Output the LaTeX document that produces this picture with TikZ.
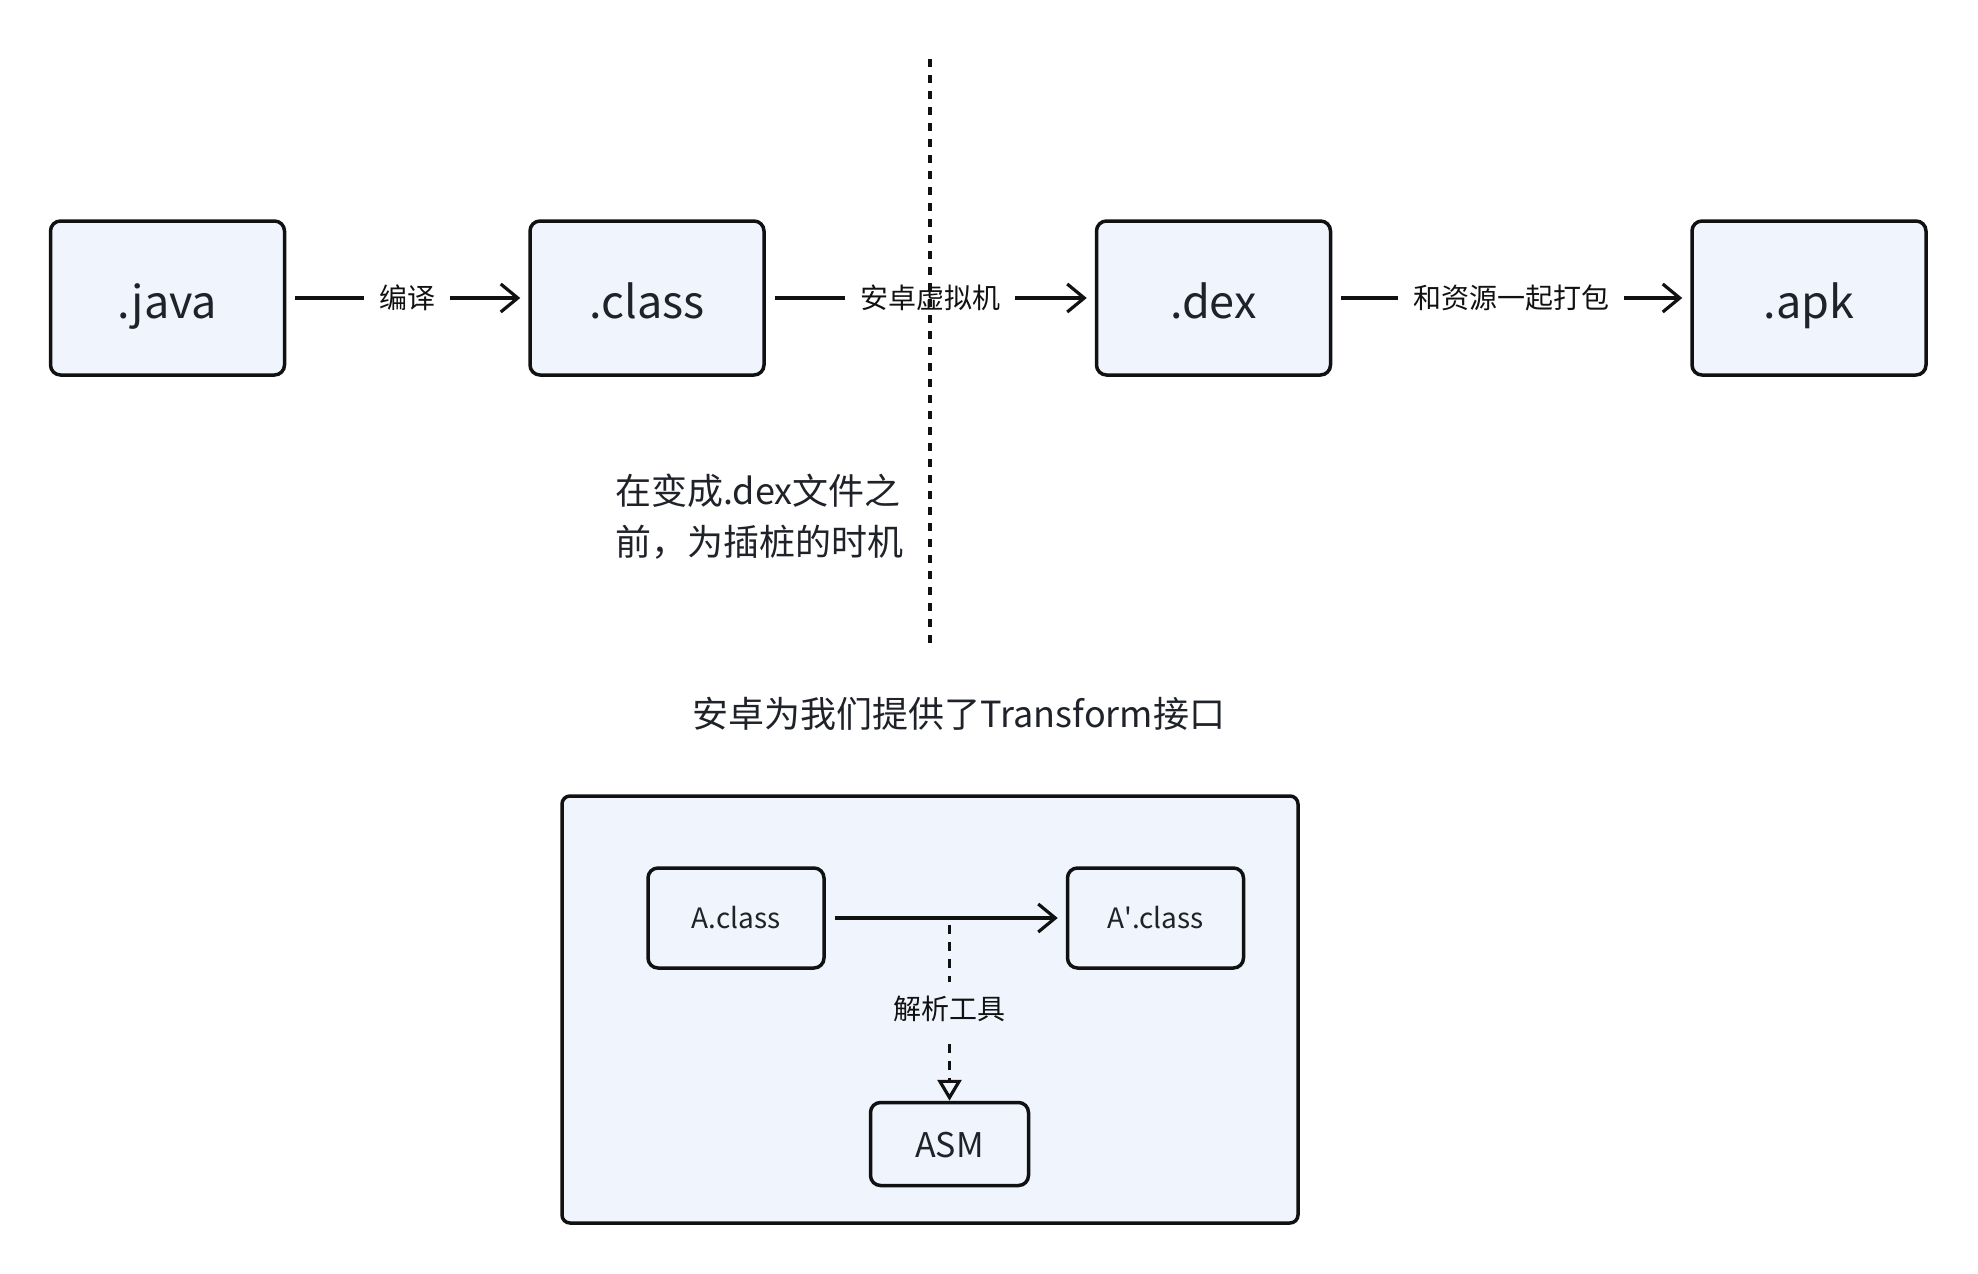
\documentclass[tikz,border=0pt]{standalone}
\usepackage{fontspec}
\setmainfont{Noto Sans CJK SC}
\usetikzlibrary{arrows.meta,positioning,calc}
\definecolor{boxfill}{HTML}{EFF4FD}
\definecolor{inkdark}{HTML}{1F2329}
\definecolor{linedark}{HTML}{111111}

\begin{document}
\begin{tikzpicture}[
    x=0.5pt, y=-0.5pt,
    text=inkdark,
    stage/.style={draw=linedark, fill=boxfill, line width=1.75pt, rounded corners=5pt, minimum width=117pt, minimum height=77pt, inner sep=0pt, text height=20.5pt, text depth=0pt, font=\fontsize{22.5pt}{27pt}\selectfont},
    item/.style={stage, minimum width=88pt, minimum height=50pt, text height=10.5pt, font=\fontsize{14pt}{17pt}\selectfont},
    frame/.style={draw=linedark, fill=boxfill, line width=1.75pt, rounded corners=4pt, minimum width=368pt, minimum height=213.5pt, inner sep=0pt},
    flow/.style={linedark, line width=1.6pt, -{Straight Barb[length=8.5pt, width=14pt, line width=1.6pt]}, shorten <=4.5pt, shorten >=4pt},
    uses/.style={linedark, line width=1.75pt, dash pattern=on 4.5pt off 4pt, -{Triangle[open, length=10.5pt, width=12pt, line width=1.6pt]}},
    divider/.style={linedark, line width=2pt, dash pattern=on 4pt off 4pt},
    edgelabel/.style={fill=white, inner xsep=7.5pt, inner ysep=2pt, font=\fontsize{14pt}{17pt}\selectfont},
    note/.style={align=left, inner sep=0pt, font=\fontsize{18pt}{25.5pt}\selectfont},
]
    \useasboundingbox (0,0) rectangle (1978,1274);

    % =====================================================================
    % BUILD CHAIN
    % =====================================================================
    \node[stage] (java) at (167.5, 298) {.java};
    \node[stage] (class) at (647, 298) {.class};
    \node[stage] (dex) at (1213.5, 298) {.dex};
    \node[stage] (apk) at (1809, 298) {.apk};

    \draw[flow] (java) -- (class) node[edgelabel, midway] {编译};
    \draw[flow] (class) -- (dex) node[edgelabel, midway] {安卓虚拟机};
    \draw[flow] (dex) -- (apk) node[edgelabel, midway] {和资源一起打包};

    % Instrumentation point (before .dex)
    \coordinate (sep_top) at (929.7, 59);
    \coordinate (sep_bottom) at (929.7, 643);
    \draw[divider] (sep_top) -- (sep_bottom);
    \node[note, anchor=west] (hint) at (615, 516.5) {在变成.dex文件之\\前，为插桩的时机};

    % =====================================================================
    % TRANSFORM API
    % =====================================================================
    \node[note] (title) at (959, 714) {安卓为我们提供了Transform接口};
    \node[frame] (transform) at (930, 1009.5) {};

    \node[item] (aclass) at (736, 918) {A.class};
    \node[item] (aprime) at (1155.5, 918) {A\textquotesingle.class};
    \node[item, minimum width=79pt, minimum height=41.5pt, text height=13.5pt, font=\fontsize{17pt}{20pt}\selectfont] (asm) at (949.5, 1144) {ASM};

    \draw[flow] (aclass) -- (aprime);
    \coordinate (tap) at (asm.north |- aclass.east);
    \draw[uses] ([yshift=-3.5pt]tap) -- (asm.north) node[edgelabel, fill=boxfill, inner xsep=2pt, inner ysep=7pt, pos=0.48] {解析工具};

\end{tikzpicture}
\end{document}
